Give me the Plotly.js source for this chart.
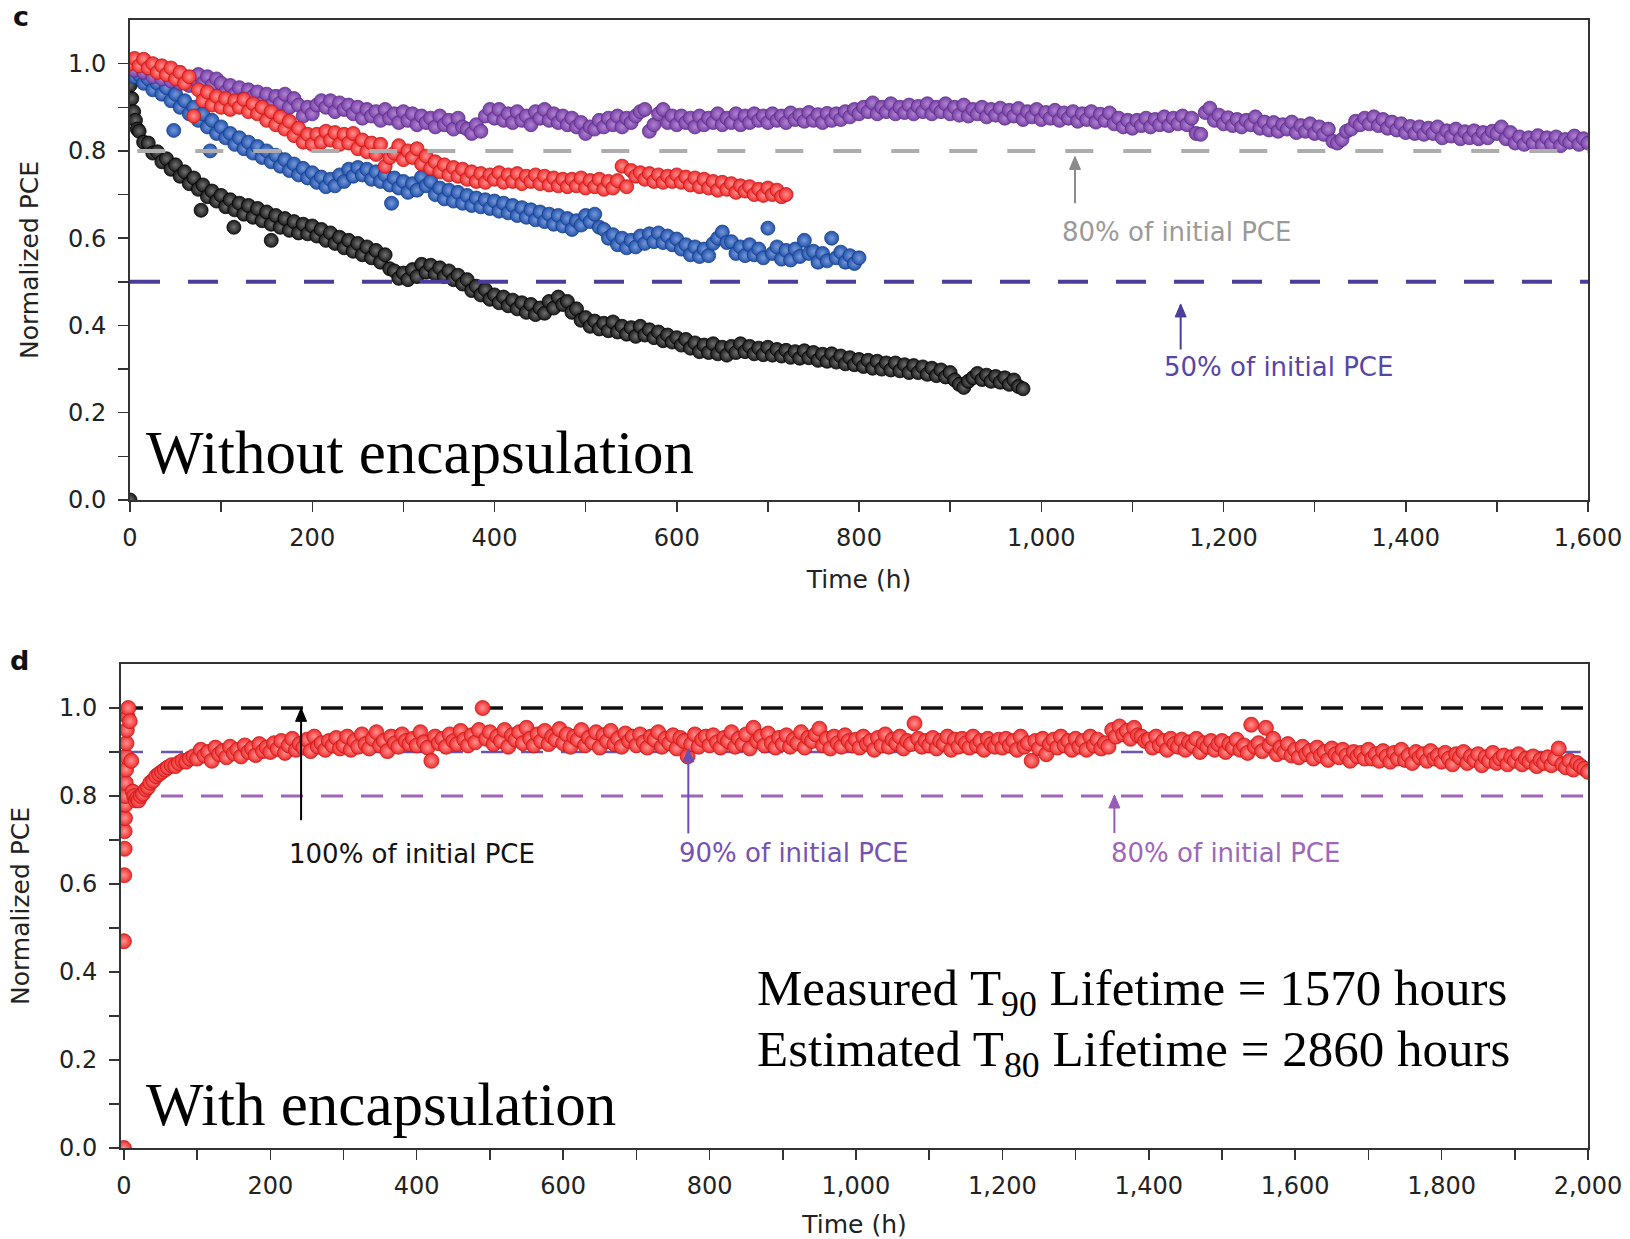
<!DOCTYPE html>
<html><head><meta charset="utf-8">
<script src="https://cdn.plot.ly/plotly-3.0.1.min.js"></script>
<style>html,body{margin:0;padding:0;background:#fff;} #chart{width:1630px;height:1239px;}</style>
</head><body><div id="chart"></div>
<script>
// ---------- Panel c: without encapsulation ----------
const cPurpleTime = [
0,5,10,15,20,25,30,35,40,45,50,55,60,65,70,75,80,85,90,95,
100,105,110,115,120,125,130,135,140,145,150,155,160,165,170,175,180,185,190,195,
200,205,210,215,220,225,230,235,240,245,250,255,260,265,270,275,280,285,290,295,
300,305,310,315,320,325,330,335,340,345,350,355,360,365,370,375,380,385,390,395,
400,405,410,415,420,425,430,435,440,445,450,455,460,465,470,475,480,485,490,495,
500,505,510,515,520,525,530,535,540,545,550,555,560,565,570,575,580,585,590,595,
600,605,610,615,620,625,630,635,640,645,650,655,660,665,670,675,680,685,690,695,
700,705,710,715,720,725,730,735,740,745,750,755,760,765,770,775,780,785,790,795,
800,805,810,815,820,825,830,835,840,845,850,855,860,865,870,875,880,885,890,895,
900,905,910,915,920,925,930,935,940,945,950,955,960,965,970,975,980,985,990,995,
1000,1005,1010,1015,1020,1025,1030,1035,1040,1045,1050,1055,1060,1065,1070,1075,1080,1085,1090,1095,
1100,1105,1110,1115,1120,1125,1130,1135,1140,1145,1150,1155,1160,1165,1170,1175,1180,1185,1190,1195,
1200,1205,1210,1215,1220,1225,1230,1235,1240,1245,1250,1255,1260,1265,1270,1275,1280,1285,1290,1295,
1300,1305,1310,1315,1320,1325,1330,1335,1340,1345,1350,1355,1360,1365,1370,1375,1380,1385,1390,1395,
1400,1405,1410,1415,1420,1425,1430,1435,1440,1445,1450,1455,1460,1465,1470,1475,1480,1485,1490,1495,
1500,1505,1510,1515,1520,1525,1530,1535,1540,1545,1550,1555,1560,1565,1570,1575,1580,1585,1590,1595,
1600];
const cPurplePCE = [
1.00,0.985,1.0,0.98,0.99,0.97,0.985,0.965,0.98,0.96,0.975,0.955,0.97,0.95,0.965,0.975,0.955,0.97,0.95,0.965,
0.955,0.935,0.95,0.93,0.945,0.92,0.94,0.925,0.935,0.91,0.93,0.905,0.925,0.91,0.93,0.90,0.92,0.905,0.88,0.90,
0.885,0.905,0.915,0.90,0.915,0.89,0.91,0.895,0.905,0.885,0.90,0.875,0.895,0.88,0.89,0.87,0.895,0.875,0.885,0.865,
0.89,0.87,0.885,0.86,0.88,0.865,0.875,0.855,0.88,0.86,0.87,0.85,0.875,0.855,0.85,0.84,0.86,0.845,0.88,0.895,
0.875,0.895,0.87,0.885,0.865,0.89,0.87,0.88,0.86,0.89,0.875,0.895,0.87,0.885,0.865,0.88,0.86,0.875,0.855,0.865,
0.84,0.855,0.85,0.87,0.855,0.875,0.86,0.88,0.855,0.875,0.865,0.88,0.89,0.895,0.845,0.86,0.885,0.895,0.865,0.88,
0.86,0.88,0.865,0.875,0.855,0.88,0.86,0.875,0.865,0.885,0.86,0.875,0.865,0.885,0.86,0.88,0.865,0.885,0.87,0.88,
0.865,0.885,0.87,0.88,0.865,0.887,0.872,0.882,0.868,0.888,0.87,0.883,0.865,0.886,0.87,0.885,0.872,0.89,0.878,0.895,
0.885,0.90,0.89,0.91,0.885,0.90,0.89,0.908,0.885,0.90,0.888,0.905,0.885,0.902,0.89,0.908,0.885,0.90,0.89,0.908,
0.885,0.90,0.882,0.905,0.88,0.895,0.885,0.90,0.878,0.895,0.882,0.898,0.875,0.893,0.88,0.897,0.872,0.89,0.878,0.895,
0.872,0.888,0.875,0.893,0.87,0.887,0.875,0.89,0.868,0.885,0.872,0.89,0.866,0.884,0.87,0.887,0.862,0.875,0.855,0.87,
0.852,0.87,0.858,0.875,0.855,0.872,0.86,0.878,0.858,0.875,0.862,0.88,0.86,0.875,0.84,0.838,0.888,0.898,0.87,0.882,
0.862,0.876,0.858,0.872,0.855,0.87,0.86,0.878,0.852,0.866,0.848,0.865,0.845,0.86,0.85,0.866,0.842,0.858,0.845,0.862,
0.84,0.855,0.838,0.85,0.822,0.818,0.826,0.845,0.85,0.868,0.86,0.875,0.862,0.878,0.858,0.872,0.852,0.866,0.848,0.862,
0.842,0.856,0.84,0.855,0.838,0.852,0.84,0.855,0.83,0.846,0.834,0.85,0.828,0.844,0.83,0.846,0.828,0.842,0.83,0.845,
0.84,0.855,0.828,0.842,0.818,0.832,0.815,0.83,0.818,0.835,0.814,0.83,0.816,0.832,0.812,0.826,0.82,0.834,0.815,0.828,
0.818];

const cRedTime = [
0,5,10,15,20,25,30,35,40,45,50,55,60,65,70,75,80,85,90,95,
100,105,110,115,120,125,130,135,140,145,150,155,160,165,170,175,180,185,190,195,
200,205,210,215,220,225,230,235,240,245,250,255,260,265,270,275,280,285,290,295,
300,305,310,315,320,325,330,335,340,345,350,355,360,365,370,375,380,385,390,395,
400,405,410,415,420,425,430,435,440,445,450,455,460,465,470,475,480,485,490,495,
500,505,510,515,520,525,530,535,540,545,550,555,560,565,570,575,580,585,590,595,
600,605,610,615,620,625,630,635,640,645,650,655,660,665,670,675,680,685,690,695,
700,705,710,715,720];
const cRedPCE = [
1.0,1.012,0.995,1.01,0.99,1.0,0.98,0.995,0.975,0.99,0.965,0.98,0.955,0.97,0.88,0.94,0.915,0.935,0.905,0.925,
0.90,0.92,0.895,0.915,0.90,0.918,0.89,0.908,0.885,0.90,0.87,0.89,0.86,0.878,0.85,0.868,0.835,0.852,0.82,0.838,
0.815,0.838,0.82,0.845,0.825,0.842,0.815,0.838,0.818,0.84,0.805,0.825,0.798,0.818,0.792,0.815,0.765,0.785,0.795,0.812,
0.78,0.80,0.785,0.805,0.77,0.788,0.76,0.775,0.752,0.768,0.745,0.762,0.742,0.758,0.735,0.752,0.73,0.748,0.728,0.745,
0.735,0.75,0.728,0.745,0.73,0.748,0.725,0.742,0.73,0.745,0.725,0.742,0.722,0.738,0.72,0.735,0.718,0.735,0.72,0.738,
0.715,0.732,0.718,0.735,0.712,0.73,0.715,0.732,0.765,0.718,0.755,0.742,0.75,0.735,0.748,0.73,0.745,0.728,0.742,0.73,
0.745,0.728,0.74,0.722,0.738,0.718,0.735,0.715,0.73,0.71,0.728,0.712,0.725,0.705,0.72,0.708,0.718,0.70,0.712,0.698,
0.715,0.70,0.71,0.695,0.70];

const cBlueTime = [
0,5,10,15,20,25,30,35,40,45,48,50,55,60,65,70,75,80,85,88,90,95,
100,105,110,115,120,125,130,135,140,145,150,155,160,165,170,175,180,185,190,195,
200,205,210,215,220,225,230,235,240,245,250,255,260,265,270,275,280,285,287,290,295,
300,305,310,315,320,325,330,335,340,345,350,355,360,365,370,375,380,385,390,395,
400,405,410,415,420,425,430,435,440,445,450,455,460,465,470,475,480,485,490,495,
500,505,510,515,520,525,530,535,540,545,550,555,560,565,570,575,580,585,590,595,
600,605,610,615,620,625,630,635,640,645,650,655,660,665,670,675,680,685,690,695,
700,705,710,715,720,725,730,735,740,745,750,755,760,765,770,775,780,785,790,795,
800];
const cBluePCE = [
0.985,0.97,0.975,0.955,0.965,0.94,0.955,0.93,0.945,0.915,0.847,0.93,0.90,0.915,0.885,0.90,0.87,0.885,0.855,0.80,0.87,0.84,
0.855,0.83,0.84,0.815,0.83,0.805,0.82,0.795,0.81,0.785,0.80,0.775,0.79,0.765,0.78,0.755,0.77,0.745,0.76,0.738,
0.75,0.728,0.74,0.718,0.735,0.72,0.745,0.73,0.758,0.742,0.762,0.745,0.758,0.735,0.752,0.73,0.745,0.722,0.68,0.738,0.715,
0.73,0.705,0.725,0.71,0.74,0.72,0.73,0.70,0.715,0.69,0.71,0.685,0.705,0.68,0.698,0.675,0.692,0.672,0.688,0.668,
0.685,0.662,0.68,0.658,0.675,0.652,0.67,0.648,0.665,0.642,0.66,0.638,0.655,0.632,0.652,0.628,0.645,0.62,0.64,0.63,
0.652,0.638,0.655,0.625,0.62,0.60,0.608,0.585,0.60,0.578,0.595,0.58,0.605,0.588,0.61,0.592,0.612,0.59,0.605,0.585,
0.598,0.575,0.585,0.562,0.58,0.558,0.575,0.56,0.588,0.60,0.614,0.59,0.592,0.565,0.58,0.56,0.585,0.562,0.575,0.555,
0.623,0.565,0.58,0.552,0.572,0.55,0.575,0.558,0.595,0.565,0.57,0.545,0.565,0.548,0.60,0.555,0.568,0.545,0.56,0.542,
0.555];

const cBlackTime = [
0,0,2,4,6,8,10,15,20,25,30,35,40,45,50,55,60,65,70,75,78,80,85,90,95,
100,105,110,114,115,120,125,130,135,140,145,150,155,155,160,165,170,175,180,185,190,195,
200,205,210,215,220,225,230,235,240,245,250,255,260,265,270,275,280,285,290,295,
300,305,310,315,320,325,330,335,340,345,350,355,360,365,370,375,380,385,390,395,
400,405,410,415,420,425,430,435,440,445,450,455,460,465,470,475,480,485,490,495,
500,505,510,515,520,525,530,535,540,545,550,555,560,565,570,575,580,585,590,595,
600,605,610,615,620,625,630,635,640,645,650,655,660,665,670,675,680,685,690,695,
700,705,710,715,720,725,730,735,740,745,750,755,760,765,770,775,780,785,790,795,
800,805,810,815,820,825,830,835,840,845,850,855,860,865,870,875,880,885,890,895,
900,905,910,915,920,925,930,935,940,945,950,955,960,965,970,975,980];
const cBlackPCE = [
0.0,0.95,0.92,0.89,0.87,0.85,0.845,0.82,0.818,0.795,0.798,0.775,0.782,0.758,0.768,0.742,0.752,0.725,0.738,0.712,0.664,0.722,0.695,0.708,0.685,
0.698,0.672,0.688,0.625,0.665,0.68,0.655,0.675,0.648,0.668,0.64,0.66,0.632,0.595,0.652,0.625,0.645,0.618,0.638,0.612,0.632,0.61,
0.628,0.605,0.62,0.595,0.612,0.588,0.602,0.578,0.595,0.57,0.588,0.562,0.58,0.555,0.572,0.545,0.562,0.53,0.525,0.508,
0.52,0.505,0.528,0.512,0.54,0.522,0.538,0.518,0.532,0.512,0.525,0.505,0.515,0.495,0.505,0.48,0.49,0.47,0.482,0.46,
0.47,0.452,0.465,0.445,0.458,0.438,0.452,0.43,0.448,0.425,0.44,0.428,0.455,0.44,0.465,0.448,0.455,0.43,0.438,0.412,
0.418,0.398,0.41,0.392,0.405,0.388,0.408,0.385,0.398,0.38,0.395,0.375,0.398,0.378,0.39,0.372,0.385,0.365,0.378,0.362,
0.372,0.355,0.368,0.348,0.36,0.34,0.355,0.338,0.358,0.335,0.35,0.332,0.352,0.338,0.358,0.34,0.352,0.335,0.348,0.333,
0.35,0.332,0.345,0.33,0.343,0.327,0.34,0.325,0.342,0.326,0.338,0.32,0.334,0.318,0.335,0.316,0.33,0.312,0.326,0.31,
0.322,0.306,0.32,0.302,0.318,0.30,0.314,0.298,0.314,0.296,0.31,0.292,0.308,0.292,0.305,0.288,0.302,0.285,0.298,0.282,
0.292,0.275,0.265,0.258,0.272,0.28,0.29,0.276,0.286,0.272,0.283,0.27,0.28,0.265,0.275,0.26,0.255];

// ---------- Panel d: with encapsulation ----------
const dRedTime = [
0,0,0.5,1,1,1.5,2,2,2.5,3,3,3.5,4,5,6,8,10,12,14,16,18,20,23,26,30,33,36,40,44,48,52,56,60,65,70,75,80,85,90,95,
100,105,110,115,120,125,130,135,140,145,150,155,160,165,170,175,180,185,190,195,
200,205,210,215,220,225,230,235,240,245,250,255,260,265,270,275,280,285,290,295,
300,305,310,315,320,325,330,335,340,345,350,355,360,365,370,375,380,385,390,395,
400,405,410,415,420,425,430,435,440,445,450,455,460,465,470,475,480,485,490,495,
500,505,510,515,520,525,530,535,540,545,550,555,560,565,570,575,580,585,590,595,
600,605,610,615,620,625,630,635,640,645,650,655,660,665,670,675,680,685,690,695,
700,705,710,715,720,725,730,735,740,745,750,755,760,765,770,775,780,785,790,795,
800,805,810,815,820,825,830,835,840,845,850,855,860,865,870,875,880,885,890,895,
900,905,910,915,920,925,930,935,940,945,950,955,960,965,970,975,980,985,990,995,
1000,1005,1010,1015,1020,1025,1030,1035,1040,1045,1050,1055,1060,1065,1070,1075,1080,1085,1090,1095,
1100,1105,1110,1115,1120,1125,1130,1135,1140,1145,1150,1155,1160,1165,1170,1175,1180,1185,1190,1195,
1200,1205,1210,1215,1220,1225,1230,1235,1240,1245,1250,1255,1260,1265,1270,1275,1280,1285,1290,1295,
1300,1305,1310,1315,1320,1325,1330,1335,1340,1345,1350,1355,1360,1365,1370,1375,1380,1385,1390,1395,
1400,1405,1410,1415,1420,1425,1430,1435,1440,1445,1450,1455,1460,1465,1470,1475,1480,1485,1490,1495,
1500,1505,1510,1515,1520,1525,1530,1535,1540,1545,1550,1555,1560,1565,1570,1575,1580,1585,1590,1595,
1600,1605,1610,1615,1620,1625,1630,1635,1640,1645,1650,1655,1660,1665,1670,1675,1680,1685,1690,1695,
1700,1705,1710,1715,1720,1725,1730,1735,1740,1745,1750,1755,1760,1765,1770,1775,1780,1785,1790,1795,
1800,1805,1810,1815,1820,1825,1830,1835,1840,1845,1850,1855,1860,1865,1870,1875,1880,1885,1890,1895,
1900,1905,1910,1915,1920,1925,1930,1935,1940,1945,1950,1955,1960,1965,1970,1975,1980,1985,1990,1995,
2000];
const dRedPCE = [
0.0,0.47,0.62,0.68,0.72,0.75,0.78,0.80,0.83,0.86,0.89,0.92,0.95,0.98,1.0,0.97,0.88,0.81,0.80,0.79,0.795,0.79,0.80,0.805,0.815,0.82,0.83,0.835,0.845,0.85,0.855,0.86,0.865,0.87,0.868,0.875,0.88,0.878,0.885,0.89,
0.885,0.905,0.892,0.900,0.880,0.910,0.895,0.902,0.888,0.912,0.897,0.905,0.890,0.915,0.900,0.908,0.893,0.918,0.902,0.910,
0.900,0.920,0.907,0.925,0.898,0.915,0.930,0.905,0.918,0.910,0.928,0.902,0.935,0.912,0.920,0.905,0.925,0.915,0.932,0.908,
0.915,0.935,0.905,0.925,0.912,0.940,0.918,0.908,0.930,0.945,0.915,0.925,0.902,0.935,0.920,0.912,0.940,0.925,0.918,0.930,
0.915,0.945,0.922,0.910,0.880,0.935,0.920,0.930,0.912,0.940,0.925,0.918,0.948,0.928,0.915,0.938,0.922,0.950,1.000,0.930,
0.945,0.918,0.935,0.925,0.950,0.912,0.938,0.928,0.945,0.920,0.955,0.930,0.915,0.940,0.925,0.948,0.918,0.935,0.928,0.952,
0.920,0.940,0.912,0.935,0.928,0.950,0.915,0.932,0.922,0.945,0.910,0.938,0.925,0.948,0.918,0.930,0.912,0.942,0.925,0.935,
0.915,0.940,0.922,0.910,0.935,0.928,0.945,0.912,0.930,0.920,0.938,0.908,0.932,0.925,0.890,0.918,0.940,0.912,0.928,0.935,
0.915,0.938,0.922,0.910,0.932,0.925,0.945,0.912,0.930,0.918,0.940,0.908,0.955,0.925,0.935,0.915,0.942,0.920,0.910,0.932,
0.918,0.938,0.912,0.928,0.920,0.945,0.910,0.932,0.925,0.940,0.953,0.915,0.930,0.908,0.935,0.920,0.912,0.938,0.925,0.915,
0.928,0.910,0.935,0.918,0.925,0.905,0.932,0.915,0.940,0.912,0.928,0.920,0.935,0.908,0.925,0.918,0.965,0.930,0.912,0.925,
0.915,0.932,0.908,0.925,0.918,0.935,0.905,0.928,0.912,0.930,0.920,0.910,0.935,0.915,0.925,0.905,0.930,0.918,0.912,0.928,
0.910,0.930,0.915,0.925,0.905,0.935,0.912,0.920,0.880,0.925,0.908,0.930,0.895,0.918,0.928,0.910,0.935,0.915,0.925,0.905,
0.930,0.912,0.925,0.905,0.935,0.915,0.928,0.908,0.920,0.912,0.950,0.935,0.958,0.940,0.948,0.930,0.955,0.938,0.935,0.925,
0.928,0.910,0.935,0.915,0.925,0.905,0.930,0.918,0.912,0.928,0.905,0.922,0.915,0.930,0.900,0.920,0.912,0.925,0.905,0.918,
0.925,0.900,0.918,0.910,0.928,0.905,0.915,0.898,0.962,0.912,0.920,0.902,0.955,0.915,0.930,0.895,0.910,0.900,0.918,0.892,
0.905,0.888,0.912,0.895,0.902,0.885,0.910,0.892,0.900,0.882,0.908,0.895,0.888,0.905,0.892,0.880,0.900,0.890,0.898,0.885,
0.905,0.885,0.895,0.880,0.902,0.890,0.878,0.898,0.885,0.905,0.882,0.892,0.875,0.900,0.888,0.895,0.880,0.902,0.885,0.892,
0.878,0.898,0.885,0.872,0.895,0.888,0.900,0.875,0.890,0.882,0.895,0.870,0.888,0.880,0.898,0.875,0.885,0.892,0.872,0.888,
0.880,0.895,0.872,0.885,0.878,0.890,0.868,0.882,0.875,0.888,0.870,0.885,0.908,0.872,0.865,0.880,0.860,0.875,0.868,0.862,
0.855];

// ---------- Axis ticks ----------
const yTickVals = [0,0.2,0.4,0.6,0.8,1.0];
const yTickText = ['0.0','0.2','0.4','0.6','0.8','1.0'];
const yMinorVals = [0.1,0.3,0.5,0.7,0.9];
const cXTickVals = [0,200,400,600,800,1000,1200,1400,1600];
const cXTickText = ['0','200','400','600','800','1,000','1,200','1,400','1,600'];
const cXMinorVals = [100,300,500,700,900,1100,1300,1500];
const dXTickVals = [0,200,400,600,800,1000,1200,1400,1600,1800,2000];
const dXTickText = ['0','200','400','600','800','1,000','1,200','1,400','1,600','1,800','2,000'];
const dXMinorVals = [100,300,500,700,900,1100,1300,1500,1700,1900];

// reference levels (fraction of initial PCE)
const cLevels = [0.8, 0.5];
const dLevels = [1.0, 0.9, 0.8];

const W = 1630, H = 1239;
const px = v => v / W, py = v => 1 - v / H;

function mk(color, edge, center, size) {
  return {size: size, color: color, line: {color: edge, width: 0.8},
          gradient: {type: 'radial', color: center}};
}

const traces = [
  {x: cBlackTime, y: cBlackPCE, xaxis: 'x', yaxis: 'y', mode: 'markers', marker: mk('#1b1b1b', '#000000', '#707070', 14), name: 'black'},
  {x: cBlueTime, y: cBluePCE, xaxis: 'x', yaxis: 'y', mode: 'markers', marker: mk('#2153ad', '#173d86', '#7898d8', 14), name: 'blue'},
  {x: cPurpleTime, y: cPurplePCE, xaxis: 'x', yaxis: 'y', mode: 'markers', marker: mk('#7a40a8', '#5b2d85', '#ae86d0', 14), name: 'purple'},
  {x: cRedTime, y: cRedPCE, xaxis: 'x', yaxis: 'y', mode: 'markers', marker: mk('#ee2a2a', '#c41616', '#ff9090', 14), name: 'red'},
  {x: dRedTime, y: dRedPCE, xaxis: 'x2', yaxis: 'y2', mode: 'markers', marker: mk('#ee2b2b', '#c81818', '#ff9292', 15), name: 'encapsulated'}
];

const tickFont = {family: 'DejaVu Sans, Arial, sans-serif', size: 24, color: '#222'};
const titleFont = {family: 'DejaVu Sans, Arial, sans-serif', size: 25, color: '#222'};
const minorStyle = {ticks: 'outside', ticklen: 10, tickwidth: 1.5, tickcolor: '#333'};
const axCommon = {showgrid: false, zeroline: false, showline: true, linecolor: '#333', linewidth: 2,
  mirror: true, ticks: 'outside', ticklen: 10, tickwidth: 1.5, tickcolor: '#333', tickfont: tickFont, tickmode: 'array'};

// arrows: shaft line + pixel-sized arrow head
function arrow(xr, yr, x, yHead, yTail, color) {
  return [
    {type: 'line', xref: xr, yref: yr, x0: x, x1: x, y0: yTail, y1: yHead, layer: 'above',
     line: {color: color, width: 2}},
    {type: 'path', xref: xr, yref: yr, xsizemode: 'pixel', ysizemode: 'pixel', xanchor: x, yanchor: yHead,
     path: 'M0,1 L-5.5,-12 L5.5,-12 Z', fillcolor: color, line: {color: color, width: 1}, layer: 'above'}
  ];
}

const shapes = [
  {type: 'line', xref: 'x', yref: 'y', x0: 8, x1: 1600, y0: cLevels[0], y1: cLevels[0], layer: 'above',
   line: {color: '#adadad', width: 4, dash: '28px,30px'}},
  {type: 'line', xref: 'x', yref: 'y', x0: 0, x1: 1600, y0: cLevels[1], y1: cLevels[1], layer: 'above',
   line: {color: '#4d3c9c', width: 4, dash: '30px,28px'}},
  {type: 'line', xref: 'x2', yref: 'y2', x0: -4, x1: 2000, y0: dLevels[0], y1: dLevels[0], layer: 'below',
   line: {color: '#111', width: 3.5, dash: '22px,18px'}},
  {type: 'line', xref: 'x2', yref: 'y2', x0: -4, x1: 1990, y0: dLevels[1], y1: dLevels[1], layer: 'below',
   line: {color: '#6a56b0', width: 2.5, dash: '22px,18px'}},
  {type: 'line', xref: 'x2', yref: 'y2', x0: -4, x1: 2000, y0: dLevels[2], y1: dLevels[2], layer: 'below',
   line: {color: '#a064b8', width: 3, dash: '22px,18px'}}
].concat(
  arrow('x', 'y', 1037, 0.785, 0.68, '#8a8a8a'),
  arrow('x', 'y', 1153, 0.447, 0.345, '#4d3c9c'),
  arrow('x2', 'y2', 242, 0.997, 0.745, '#000000'),
  arrow('x2', 'y2', 771, 0.905, 0.715, '#6a4fb0'),
  arrow('x2', 'y2', 1353, 0.80, 0.716, '#9a5ab8')
);

const labelFont = (c) => ({family: 'DejaVu Sans, Arial, sans-serif', size: 26, color: c});
const serif = (s) => ({family: 'Liberation Serif, Times New Roman, serif', size: s, color: '#000'});

const layout = {
  width: W, height: H, showlegend: false,
  margin: {l: 0, r: 0, t: 0, b: 0},
  paper_bgcolor: '#fff', plot_bgcolor: '#fff',
  xaxis: Object.assign({}, axCommon, {domain: [px(130), px(1588)], range: [0, 1600], anchor: 'y',
    tickvals: cXTickVals, ticktext: cXTickText, ticklabelstandoff: 5,
    minor: Object.assign({tickvals: cXMinorVals}, minorStyle),
    title: {text: 'Time (h)', font: titleFont, standoff: 20}}),
  yaxis: Object.assign({}, axCommon, {domain: [py(500), py(20)], range: [0, 1.1], anchor: 'x',
    tickvals: yTickVals, ticktext: yTickText, ticklabelstandoff: 7,
    minor: Object.assign({tickvals: yMinorVals}, minorStyle),
    title: {text: 'Normalized PCE', font: titleFont, standoff: 22}}),
  xaxis2: Object.assign({}, axCommon, {domain: [px(121), px(1588)], range: [-4, 2000], anchor: 'y2',
    tickvals: dXTickVals, ticktext: dXTickText, ticklabelstandoff: 5,
    minor: Object.assign({tickvals: dXMinorVals}, minorStyle),
    title: {text: 'Time (h)', font: titleFont, standoff: 20}}),
  yaxis2: Object.assign({}, axCommon, {domain: [py(1148), py(664)], range: [0, 1.1], anchor: 'x2',
    tickvals: yTickVals, ticktext: yTickText, ticklabelstandoff: 7,
    minor: Object.assign({tickvals: yMinorVals}, minorStyle),
    title: {text: 'Normalized PCE', font: titleFont, standoff: 22}}),
  shapes: shapes,
  annotations: [
    {xref: 'paper', yref: 'paper', x: px(21), y: py(16), xanchor: 'center', yanchor: 'middle', text: '<b>c</b>', showarrow: false,
     font: {family: 'DejaVu Sans, Arial, sans-serif', size: 27, color: '#111'}},
    {xref: 'paper', yref: 'paper', x: px(19), y: py(660), xanchor: 'center', yanchor: 'middle', text: '<b>d</b>', showarrow: false,
     font: {family: 'DejaVu Sans, Arial, sans-serif', size: 27, color: '#111'}},
    {xref: 'x', yref: 'y', x: 1021, y: 0.614, xanchor: 'left', yanchor: 'middle', text: '80% of initial PCE', showarrow: false,
     font: labelFont('#9a9a9a')},
    {xref: 'x', yref: 'y', x: 1132, y: 0.305, xanchor: 'left', yanchor: 'middle', text: '50% of initial PCE', showarrow: false,
     font: labelFont('#5646a6')},
    {xref: 'paper', yref: 'paper', x: px(144), y: py(452), xanchor: 'left', yanchor: 'middle', text: 'Without encapsulation', showarrow: false,
     font: serif(61)},
    {xref: 'x2', yref: 'y2', x: 223, y: 0.668, xanchor: 'left', yanchor: 'middle', text: '100% of initial PCE', showarrow: false,
     font: labelFont('#111')},
    {xref: 'x2', yref: 'y2', x: 755, y: 0.67, xanchor: 'left', yanchor: 'middle', text: '90% of initial PCE', showarrow: false,
     font: labelFont('#7552b4')},
    {xref: 'x2', yref: 'y2', x: 1345, y: 0.67, xanchor: 'left', yanchor: 'middle', text: '80% of initial PCE', showarrow: false,
     font: labelFont('#a066bb')},
    {xref: 'paper', yref: 'paper', x: px(144), y: py(1104), xanchor: 'left', yanchor: 'middle', text: 'With encapsulation', showarrow: false,
     font: serif(61)},
    {xref: 'paper', yref: 'paper', x: px(755), y: py(992), xanchor: 'left', yanchor: 'middle', text: 'Measured T<sub>90</sub> Lifetime = 1570 hours', showarrow: false,
     font: serif(51)},
    {xref: 'paper', yref: 'paper', x: px(755), y: py(1053), xanchor: 'left', yanchor: 'middle', text: 'Estimated T<sub>80</sub> Lifetime = 2860 hours', showarrow: false,
     font: serif(51)}
  ]
};

Plotly.newPlot('chart', traces, layout, {staticPlot: true, displayModeBar: false});
</script></body></html>
